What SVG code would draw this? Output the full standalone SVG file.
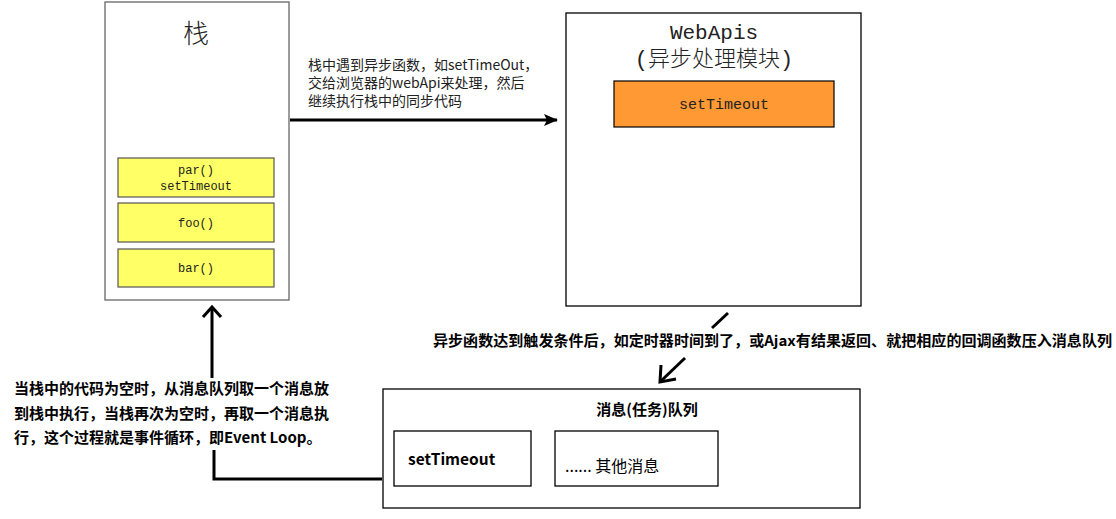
<svg xmlns="http://www.w3.org/2000/svg" width="1116" height="519" viewBox="0 0 1116 519">
<style>
.box{fill:#fff;stroke:#000;stroke-width:1.3}
.yel{fill:#ffff66;stroke:#555;stroke-width:1.2}
.mono{font-family:"Liberation Mono","DejaVu Sans Mono",monospace;font-size:12px;fill:#222}
.thin{font-family:"Liberation Mono","Noto Sans CJK SC",monospace;font-weight:300;fill:#222}
.note{font-family:"Noto Sans CJK SC","Liberation Sans",sans-serif;font-size:14px;fill:#222}
.bold{font-family:"Noto Sans CJK SC","Liberation Sans",sans-serif;font-size:14.5px;font-weight:bold;fill:#000}
.ln{fill:none;stroke:#000;stroke-width:3}
</style>
<defs>
<marker id="tri" markerWidth="14" markerHeight="12" refX="13" refY="6" orient="auto" markerUnits="userSpaceOnUse">
<path d="M0,0 L14,6 L0,12 L3,6 Z" fill="#000"/>
</marker>
</defs>
<rect width="1116" height="519" fill="#fff"/>

<g id="stack">
<rect x="105" y="2" width="184" height="298" fill="#fff" stroke="#666" stroke-width="1.3"/>
<text x="196" y="43" class="thin" style="font-size:26px" text-anchor="middle">栈</text>
<rect x="118" y="158" width="156" height="39" class="yel"/>
<text x="196" y="174" class="mono" text-anchor="middle">par()</text>
<text x="196" y="190" class="mono" text-anchor="middle">setTimeout</text>
<rect x="118" y="203" width="156" height="39" class="yel"/>
<text x="196" y="227" class="mono" text-anchor="middle">foo()</text>
<rect x="118" y="249" width="156" height="38" class="yel"/>
<text x="196" y="272" class="mono" text-anchor="middle">bar()</text>
</g>

<g id="webapis">
<rect x="566" y="13" width="295" height="293" class="box"/>
<text x="714" y="39" class="thin" style="font-size:21px" text-anchor="middle">WebApis</text>
<text x="714" y="66" class="thin" style="font-size:22px" text-anchor="middle">(异步处理模块)</text>
<rect x="614" y="81" width="220" height="46" fill="#ff9933" stroke="#000" stroke-width="1.2"/>
<text x="724" y="109" class="mono" style="font-size:15px" text-anchor="middle">setTimeout</text>
</g>

<g id="queue">
<rect x="383" y="389" width="477" height="119" class="box"/>
<text x="647" y="415" class="bold" style="font-size:15px" text-anchor="middle">消息(任务)队列</text>
<rect x="394" y="431" width="137" height="55" class="box"/>
<text x="408" y="465" class="bold" style="font-size:15.5px">setTimeout</text>
<rect x="555" y="431" width="163" height="55" class="box"/>
<text x="565" y="472" class="note" style="font-size:16px;fill:#000">...... 其他消息</text>
</g>

<g id="labels">
<text class="note"><tspan x="308" y="70">栈中遇到异步函数，如setTimeOut，</tspan><tspan x="308" y="88">交给浏览器的webApi来处理，然后</tspan><tspan x="308" y="106">继续执行栈中的同步代码</tspan></text>
<text x="433" y="346" class="bold" textLength="679" lengthAdjust="spacingAndGlyphs">异步函数达到触发条件后，如定时器时间到了，或Ajax有结果返回、就把相应的回调函数压入消息队列</text>
<text class="bold" style="font-size:15px"><tspan x="14" y="394">当栈中的代码为空时，从消息队列取一个消息放</tspan><tspan x="14" y="419">到栈中执行，当栈再次为空时，再取一个消息执</tspan><tspan x="14" y="443">行，这个过程就是事件循环，即Event Loop。</tspan></text>
</g>

<g id="connectors">
<line x1="290" y1="120" x2="557" y2="120" class="ln" stroke-width="2.5" marker-end="url(#tri)"/>
<line x1="728" y1="313" x2="712" y2="328" class="ln"/>
<line x1="685" y1="358" x2="661" y2="381" class="ln"/>
<polyline points="661,365 660,382 676,379" class="ln"/>
<line x1="212" y1="308" x2="212" y2="378" class="ln"/>
<polyline points="203,317 212,307 221,317" class="ln"/>
<polyline points="214,450 214,479 382,479" class="ln"/>
</g>
</svg>
